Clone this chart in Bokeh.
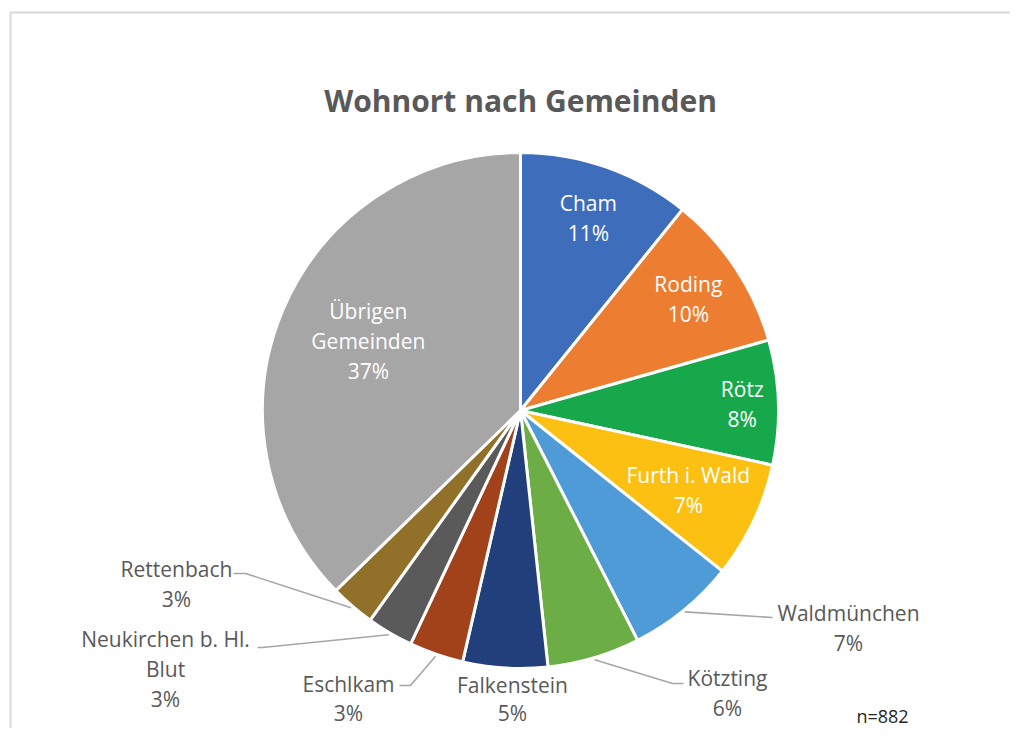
import math
from bokeh.plotting import figure
from bokeh.models import ColumnDataSource, Range1d
from bokeh.core.properties import value
from bokeh.embed import file_html
from bokeh.resources import INLINE

# ---------------- data ----------------
names = ["Cham", "Roding", "Rötz", "Furth i. Wald", "Waldmünchen", "Kötzting",
         "Falkenstein", "Eschlkam", "Neukirchen b. Hl.\nBlut", "Rettenbach",
         "Übrigen\nGemeinden"]
shares = [10.8, 9.8, 7.8, 7.3, 6.8, 5.8, 5.3, 3.4, 2.9, 2.8, 37.3]  # percent
colors = ["#3E6DBB", "#ED7D31", "#16A84A", "#FBC012", "#4E9BD7", "#6CAD45",
          "#213F7A", "#A2421B", "#5A5A5A", "#91702A", "#A6A6A6"]
title_text = "Wohnort nach Gemeinden"
n_text = "n=882"

# ---------------- layout ----------------
W, H = 1010, 728
CX, CY_S = 520, 410          # pie centre in screen px
R = 258
FONT = "Open Sans"
LINE = 30


def sy(y_screen):
    """screen y -> data y (data y grows upward)"""
    return H - y_screen


CY = sy(CY_S)

# inside labels: radial distance factor ; outside labels: block centre + leader path
inside = {"Cham": 0.79, "Roding": 0.78, "Rötz": 0.86, "Furth i. Wald": 0.72,
          "Übrigen\nGemeinden": 0.64}
inside_dy = {"Übrigen\nGemeinden": -5}
outside = {  # (label centre dx, first-line dy, line step) relative to pie centre, leader bends
    "Waldmünchen": ((328, 202, 30), [(252, 207)]),
    "Kötzting": ((207, 267, 30), [(152, 273), (163, 273)]),
    "Falkenstein": ((-8, 274, 28), []),
    "Eschlkam": ((-172, 273, 29), [(-110, 275), (-121, 275)]),
    "Neukirchen b. Hl.\nBlut": ((-355, 228, 30), [(-258, 237), (-263, 237)]),
    "Rettenbach": ((-344, 158, 30), [(-275, 163), (-287, 163)]),
}

total = sum(shares)
starts, ends, mids = [], [], []
c = 0.0
for s in shares:
    a0 = c / total * 2 * math.pi
    c += s
    a1 = c / total * 2 * math.pi
    starts.append(math.pi / 2 - a0)
    ends.append(math.pi / 2 - a1)
    mids.append((a0 + a1) / 2)
pct = [f"{round(s / total * 100)}%" for s in shares]

p = figure(width=W, height=H, output_backend="svg", toolbar_location=None,
           x_range=Range1d(0, W), y_range=Range1d(0, H),
           x_axis_location=None, y_axis_location=None, min_border=0,
           outline_line_color=None, background_fill_color="white",
           border_fill_color="white")
p.grid.visible = False

# chart frame border (top and left visible)
p.quad(left=[10], right=[1040], top=[sy(12)], bottom=[sy(760)], fill_color=None,
       line_color="#D9D9D9", line_width=2)

src = ColumnDataSource(dict(start=starts, end=ends, color=colors))
p.wedge(x=CX, y=CY, radius=R, start_angle="start", end_angle="end",
        direction="clock", fill_color="color", line_color="white", line_width=3,
        source=src)

tx, ty, tt, tc = [], [], [], []
lx, ly = [], []
for name, m, pc in zip(names, mids, pct):
    lines = name.split("\n") + [pc]
    if name in inside:
        rho = inside[name] * R
        bx = CX + rho * math.sin(m)
        by_s = CY_S - rho * math.cos(m) + inside_dy.get(name, 0)
        step = LINE
        first = by_s - (len(lines) - 1) * step / 2
        col = "white"
    else:
        (dx, dy, step), bends = outside[name]
        bx = CX + dx
        first = CY_S + dy
        col = "#595959"
        if bends:
            xs = [CX + (R + 2) * math.sin(m)] + [CX + b[0] for b in bends]
            ys = [sy(CY_S - (R + 2) * math.cos(m))] + [sy(CY_S + b[1]) for b in bends]
            lx.append(xs)
            ly.append(ys)
    for i, ln in enumerate(lines):
        tx.append(bx)
        ty.append(sy(first + i * step))
        tt.append(ln)
        tc.append(col)

p.multi_line(xs=lx, ys=ly, line_color="#A6A6A6", line_width=1.6)
p.text(x=tx, y=ty, text=tt, text_color=tc, text_font=value(FONT),
       text_font_size="21px", text_align="center", text_baseline="middle")

p.text(x=[CX], y=[sy(100)], text=[title_text], text_color="#595959",
       text_font=value(FONT), text_font_size="30px", text_font_style="bold",
       text_align="center", text_baseline="middle")
p.text(x=[882], y=[sy(715)], text=[n_text], text_color="#262626",
       text_font=value(FONT), text_font_size="18px", text_align="center",
       text_baseline="middle")

open("out.html", "w").write(file_html(p, INLINE))
